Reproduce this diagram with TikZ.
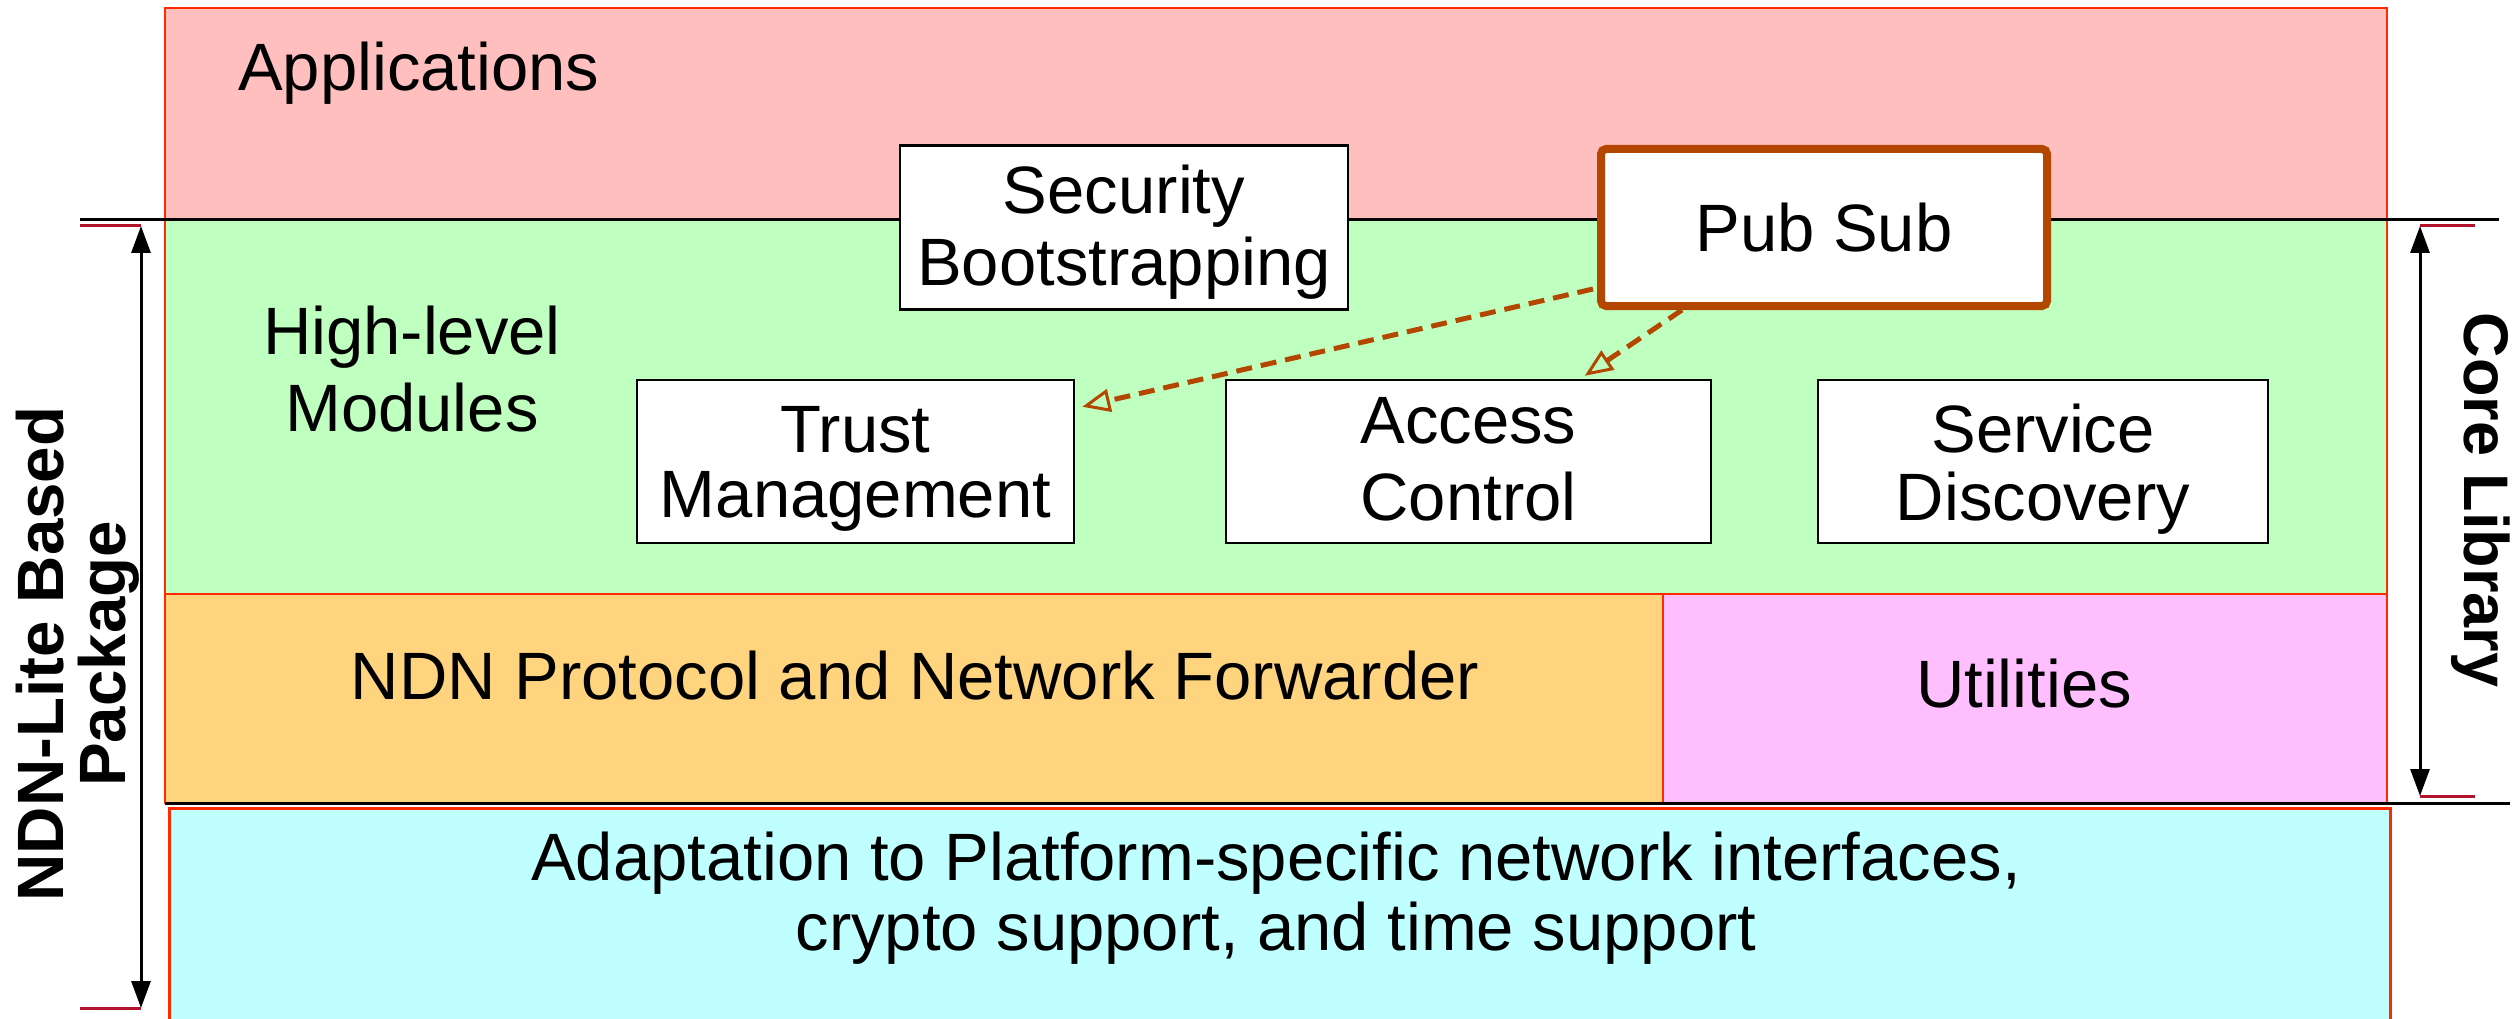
\documentclass[tikz,border=0pt]{standalone}
\usepackage{fontspec}
\setmainfont{Liberation Sans}
\usetikzlibrary{arrows.meta,calc}
\definecolor{apppink}{HTML}{FFBFBF}
\definecolor{hlgreen}{HTML}{BFFFBF}
\definecolor{ndnorange}{HTML}{FFD47F}
\definecolor{utilpink}{HTML}{FFBFFF}
\definecolor{adaptcyan}{HTML}{BFFFFF}
\definecolor{layerred}{HTML}{FF2A00}
\definecolor{psbrown}{HTML}{B34700}
\definecolor{tickred}{HTML}{B3132B}
% two-line text with controlled first-line height (#1), line skip (#2)
\newcommand{\twoline}[4]{\rule{0pt}{#1pt}#3\\[\dimexpr#2pt-\baselineskip\relax]\rule[-15pt]{0pt}{15pt}#4}
\begin{document}
\begin{tikzpicture}[x=1pt,y=-1pt,
  layerbox/.style={draw=layerred, line width=2pt, inner sep=0pt, minimum width=#1},
  modbox/.style={draw=black, line width=2.5pt, fill=white, inner sep=0pt,
     minimum height=163pt, align=center, font=\fontsize{67}{67}\selectfont},
  lbl/.style={inner sep=0pt, align=center, font=\fontsize{67}{70}\selectfont},
  sidelbl/.style={inner sep=0pt, align=center, font=\bfseries\fontsize{65.5}{62}\selectfont},
  sepline/.style={draw=black, line width=3pt},
  tickline/.style={draw=tickred, line width=3pt},
  dimarrow/.style={draw=black, line width=3pt, {Triangle[length=27pt,width=19pt]}-{Triangle[length=27pt,width=19pt]}},
  usesarrow/.style={draw=psbrown, line width=5pt, dash pattern=on 16pt off 9pt,
     -{Triangle[open,length=28pt,width=23pt,line width=3pt]}}
]
\useasboundingbox (0,0) rectangle (2517,1019);
\fill[white] (0,0) rectangle (2517,1019);

% layers
\node[layerbox=2222pt, minimum height=212pt, fill=apppink] (apps) at (1276,114) {};
\node[layerbox=2222pt, minimum height=374pt, fill=hlgreen] (hl) at (1276,407) {};
\node[layerbox=1498pt, minimum height=209pt, fill=ndnorange] (ndn) at (914,698.5) {};
\node[layerbox=724pt, minimum height=209pt, fill=utilpink] (util) at (2025,698.5) {};
\node[layerbox=2221pt, minimum height=240pt, fill=adaptcyan, line width=3pt] (adapt) at (1279.5,928) {};

% separator lines
\coordinate (topL) at (80,220);
\coordinate (topR) at (2499,220);
\coordinate (botL) at (165,803);
\coordinate (botR) at (2510,803);
\draw[sepline] (topL) -- (topR);
\draw[sepline] (botL) -- (botR);

% layer labels
\node[lbl, anchor=base west] (appst) at (238,91) {Applications};
\node[lbl, font=\fontsize{67}{77}\selectfont] (hlt) at (412,369) {High-level\\Modules};
\node[lbl] (ndnt) at (915,676) {NDN Protocol and Network Forwarder};
\node[lbl] (utilt) at (2024,684) {Utilities};
\node[lbl] (adaptt) at (1276,898) {Adaptation to Platform-specific network interfaces,\\crypto support, and time support};

% modules
\node[modbox, minimum width=448pt, minimum height=164pt] (secboot) at (1124,227.5) {\twoline{59}{72}{Security}{Bootstrapping}};
\node[modbox, minimum width=437pt] (trust) at (855.5,461.5) {\twoline{61}{65}{Trust}{Management}};
\node[modbox, minimum width=485pt] (access) at (1468.5,461.5) {\twoline{55}{77}{Access}{Control}};
\node[modbox, minimum width=450pt] (service) at (2043,461.5) {\twoline{64}{68}{Service}{Discovery}};
\node[draw=psbrown, line width=8pt, rounded corners=5pt, fill=white, inner sep=0pt,
      minimum width=446pt, minimum height=157pt, font=\fontsize{67}{67}\selectfont] (pubsub) at (1824,227.5) {Pub Sub};

% dependency arrows
\coordinate (a1s) at ([xshift=-4pt,yshift=21pt]pubsub.south west);
\coordinate (a1e) at ([xshift=7pt,yshift=-28pt]trust.north east);
\coordinate (a2s) at ([xshift=85pt]pubsub.south west);
\coordinate (a2e) at ([xshift=360pt,yshift=3pt]access.north west);
\draw[usesarrow] (a1s) -- (a1e);
\draw[usesarrow] (a2s) -- (a2e);

% left dimension
\coordinate (lt) at (141,226);
\coordinate (lb) at (141,1008);
\coordinate (ltl) at (80,226);
\coordinate (lbl) at (80,1008);
\draw[tickline] (ltl) -- (lt);
\draw[tickline] (lbl) -- (lb);
\draw[dimarrow] (lt) -- (lb);
\node[sidelbl, rotate=90] (pkg) at (78,654) {NDN-Lite Based\\Package};

% right dimension
\coordinate (rt) at (2420,226);
\coordinate (rb) at (2420,796);
\coordinate (rtr) at (2475,226);
\coordinate (rbr) at (2475,796);
\draw[tickline] (rt) -- (rtr);
\draw[tickline] (rb) -- (rbr);
\draw[dimarrow] (rt) -- (rb);
\node[sidelbl, rotate=-90, font=\bfseries\fontsize{63}{62}\selectfont] (core) at (2481,500) {Core Library};
\end{tikzpicture}
\end{document}
